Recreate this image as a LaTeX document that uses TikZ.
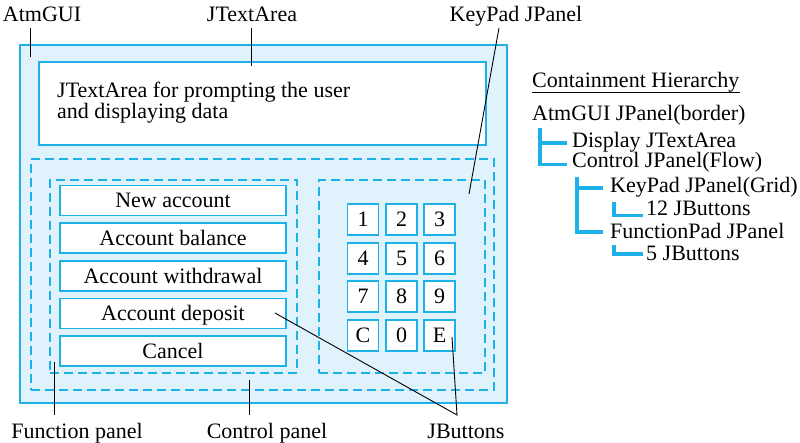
\documentclass[tikz,border=0pt]{standalone}
\usepackage{fontspec}
\setmainfont{Liberation Serif}
\definecolor{cy}{HTML}{1DB1E8}
\definecolor{lb}{HTML}{E0F2FC}
\begin{document}
\begin{tikzpicture}[x=1pt,y=-1pt,font=\fontsize{22}{22}\selectfont,
  box/.style={draw=cy,line width=1.6pt,inner sep=0pt,anchor=north west},
  panel/.style={draw=cy,line width=1.6pt,dash pattern=on 9pt off 5pt,inner sep=0pt,anchor=north west},
  fbtn/.style={draw=cy,fill=white,line width=1.6pt,minimum width=226pt,minimum height=30pt,inner sep=0pt,text height=15pt,text depth=0pt},
  kbtn/.style={draw=cy,fill=white,line width=1.6pt,minimum width=31pt,minimum height=31pt,inner sep=0pt,text height=15pt,text depth=0pt},
  lbl/.style={inner sep=0pt,anchor=base},
  hl/.style={inner sep=0pt,anchor=base west},
  lead/.style={draw=black,line width=0.9pt},
  tree/.style={draw=cy,line width=3.3pt}]
\useasboundingbox (0,0) rectangle (800,443);
% containers
\node[box,fill=lb,minimum width=487pt,minimum height=358pt] (atm) at (19,44) {};
\node[box,fill=white,minimum width=447pt,minimum height=83pt] (ta) at (38,61) {};
\node[inner sep=0pt,anchor=base west] (tal1) at (57,98) {JTextArea for prompting the user};
\node[inner sep=0pt,anchor=base west] (tal2) at (57,119) {and displaying data};
\node[panel,minimum width=463pt,minimum height=231pt] (ctrl) at (30,158) {};
\node[panel,minimum width=247pt,minimum height=193pt] (func) at (49,179) {};
\node[panel,minimum width=166pt,minimum height=193pt] (kpad) at (318,179) {};
% function buttons
\node[fbtn] (b1) at (173,200.5) {New account};
\node[fbtn] (b2) at (173,238) {Account balance};
\node[fbtn] (b3) at (173,276) {Account withdrawal};
\node[fbtn] (b4) at (173,313.5) {Account deposit};
\node[fbtn] (b5) at (173,351) {Cancel};
% keypad
\node[kbtn] (k1) at (363,219.5) {1};
\node[kbtn] (k2) at (401.5,219.5) {2};
\node[kbtn] (k3) at (439.5,219.5) {3};
\node[kbtn] (k4) at (363,258.5) {4};
\node[kbtn] (k5) at (401.5,258.5) {5};
\node[kbtn] (k6) at (439.5,258.5) {6};
\node[kbtn] (k7) at (363,296.5) {7};
\node[kbtn] (k8) at (401.5,296.5) {8};
\node[kbtn] (k9) at (439.5,296.5) {9};
\node[kbtn] (kc) at (363,335.5) {C};
\node[kbtn] (k0) at (401.5,335.5) {0};
\node[kbtn] (ke) at (439.5,335.5) {E};
% labels
\node[lbl] (latm) at (42,22) {AtmGUI};
\node[lbl] (lta) at (252,22) {JTextArea};
\node[lbl] (lkp) at (516,22) {KeyPad JPanel};
\node[lbl] (lfp) at (77,438) {Function panel};
\node[lbl] (lcp) at (267,438) {Control panel};
\node[lbl] (ljb) at (466,438) {JButtons};
\coordinate (catm1) at (30,28); \coordinate (catm2) at (30,57);
\coordinate (cta1) at (251,28); \coordinate (cta2) at (251,66);
\coordinate (ckp1) at (499,28); \coordinate (ckp2) at (469,194);
\coordinate (cfp1) at (54,415); \coordinate (cfp2) at (54,362);
\coordinate (ccp1) at (249,415); \coordinate (ccp2) at (249,380);
\coordinate (cjb) at (457,415); \coordinate (cdep) at (275,313); \coordinate (ce) at (452,337);
\draw[lead] (catm1) -- (catm2);
\draw[lead] (cta1) -- (cta2);
\draw[lead] (ckp1) -- (ckp2);
\draw[lead] (cfp1) -- (cfp2);
\draw[lead] (ccp1) -- (ccp2);
\draw[lead] (cdep) -- (cjb) -- (ce);
% hierarchy
\node[hl] (ch) at (532,88) {Containment Hierarchy};
\draw[line width=0.9pt] ([yshift=-4.5pt]ch.base west) -- ([yshift=-4.5pt]ch.base east);
\node[hl] (h1) at (532,121) {AtmGUI JPanel(border)};
\node[hl] (h2) at (572,148) {Display JTextArea};
\node[hl] (h3) at (572,168) {Control JPanel(Flow)};
\node[hl] (h4) at (610,193) {KeyPad JPanel(Grid)};
\node[hl] (h5) at (646,216) {12 JButtons};
\node[hl] (h6) at (610,239) {FunctionPad JPanel};
\node[hl] (h7) at (646,261) {5 JButtons};
\draw[tree] (540,128) -- (540,164.5) -- (567,164.5);
\draw[tree] (540,143) -- (567,143);
\draw[tree] (577,177) -- (577,232) -- (603,232);
\draw[tree] (577,188) -- (603,188);
\draw[tree] (614,202) -- (614,215.5) -- (643,215.5);
\draw[tree] (614,245) -- (614,254) -- (643,254);
\end{tikzpicture}
\end{document}
